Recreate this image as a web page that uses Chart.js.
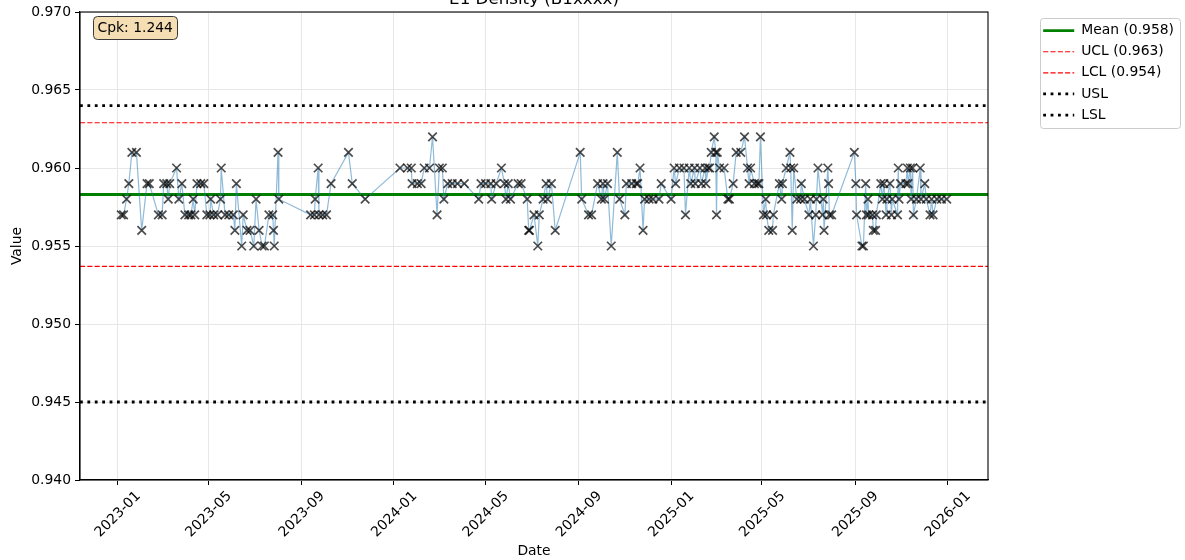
<!DOCTYPE html>
<html>
<head>
<meta charset="utf-8">
<script src="https://cdn.jsdelivr.net/npm/chart.js@4.4.1/dist/chart.umd.min.js"></script>
<style>
html, body { margin: 0; padding: 0; background: #fff; }
canvas { display: block; }
</style>
</head>
<body>
<canvas id="spc" width="1185" height="560"></canvas>
<script>
// E1 Density control chart

const dates = [
  "2023-01-06","2023-01-09","2023-01-13","2023-01-16","2023-01-20","2023-01-26","2023-02-02","2023-02-09","2023-02-12","2023-02-24",
  "2023-03-01","2023-03-03","2023-03-07","2023-03-09","2023-03-11","2023-03-20","2023-03-23","2023-03-27","2023-03-31","2023-04-05",
  "2023-04-08","2023-04-11","2023-04-13","2023-04-16","2023-04-21","2023-04-25","2023-04-29","2023-05-03","2023-05-04","2023-05-08",
  "2023-05-13","2023-05-17","2023-05-18","2023-05-23","2023-05-28","2023-06-03","2023-06-05","2023-06-07","2023-06-14","2023-06-16",
  "2023-06-21","2023-06-25","2023-06-30","2023-07-03","2023-07-07","2023-07-11","2023-07-14","2023-07-20","2023-07-25","2023-07-26",
  "2023-07-27","2023-08-01","2023-08-02","2023-09-13","2023-09-18","2023-09-19","2023-09-23","2023-09-24","2023-09-29","2023-10-04",
  "2023-10-10","2023-11-02","2023-11-07","2023-11-24",
  "2024-01-09","2024-01-19","2024-01-24","2024-01-25","2024-02-01","2024-02-06","2024-02-10","2024-02-17","2024-02-21","2024-02-27",
  "2024-03-01","2024-03-05","2024-03-07","2024-03-12","2024-03-18","2024-03-25","2024-04-03","2024-04-22","2024-04-25","2024-05-01",
  "2024-05-08","2024-05-09","2024-05-15","2024-05-22","2024-05-26","2024-05-28","2024-05-31","2024-06-03","2024-06-13","2024-06-17",
  "2024-06-25","2024-06-27","2024-06-28","2024-07-04","2024-07-09","2024-07-11","2024-07-16","2024-07-20","2024-07-22","2024-07-27",
  "2024-08-01","2024-09-03","2024-09-05","2024-09-14","2024-09-18","2024-09-26","2024-10-01","2024-10-03","2024-10-05","2024-10-09",
  "2024-10-14","2024-10-22","2024-10-25","2024-11-01","2024-11-03","2024-11-10","2024-11-16","2024-11-18","2024-11-21","2024-11-25",
  "2024-11-27","2024-12-03","2024-12-08","2024-12-16","2024-12-19",
  "2025-01-01","2025-01-05","2025-01-07","2025-01-12","2025-01-18","2025-01-20","2025-01-25","2025-01-27","2025-02-01","2025-02-02",
  "2025-02-08","2025-02-10","2025-02-15","2025-02-16","2025-02-19","2025-02-21","2025-02-23","2025-02-27","2025-03-01","2025-03-02",
  "2025-03-03","2025-03-06","2025-03-12","2025-03-17","2025-03-19","2025-03-24","2025-03-28","2025-04-03","2025-04-08","2025-04-12",
  "2025-04-14","2025-04-16","2025-04-21","2025-04-25","2025-04-27","2025-04-29","2025-05-03","2025-05-06","2025-05-07","2025-05-10",
  "2025-05-15","2025-05-16","2025-05-24","2025-05-27","2025-05-28","2025-06-02","2025-06-07","2025-06-08","2025-06-10","2025-06-12",
  "2025-06-16","2025-06-21","2025-06-22","2025-06-26","2025-07-02","2025-07-04","2025-07-08","2025-07-11","2025-07-12","2025-07-14",
  "2025-07-20","2025-07-21","2025-07-22","2025-07-27","2025-07-28","2025-07-29","2025-08-01","2025-08-31","2025-09-02","2025-09-03",
  "2025-09-10","2025-09-12","2025-09-15","2025-09-16","2025-09-18","2025-09-19","2025-09-24","2025-09-25","2025-09-28","2025-09-29",
  "2025-10-05","2025-10-07","2025-10-09","2025-10-12","2025-10-13","2025-10-17","2025-10-19","2025-10-20","2025-10-27","2025-10-28",
  "2025-10-29","2025-10-31","2025-11-07","2025-11-09","2025-11-10","2025-11-13","2025-11-14","2025-11-16","2025-11-17","2025-11-21",
  "2025-11-26","2025-11-27","2025-12-02","2025-12-04","2025-12-09","2025-12-11","2025-12-13","2025-12-18","2025-12-24","2025-12-31"
];

const values = [
  0.957,0.957,0.958,0.959,0.961,0.961,0.956,0.959,0.959,0.957,
  0.957,0.959,0.959,0.958,0.959,0.960,0.958,0.959,0.957,0.957,
  0.957,0.958,0.957,0.959,0.959,0.959,0.957,0.957,0.958,0.957,
  0.957,0.958,0.960,0.957,0.957,0.957,0.956,0.959,0.955,0.957,
  0.956,0.956,0.955,0.958,0.956,0.955,0.955,0.957,0.957,0.956,
  0.955,0.961,0.958,0.957,0.957,0.958,0.960,0.957,0.957,0.957,
  0.959,0.961,0.959,0.958,
  0.960,0.960,0.960,0.959,0.959,0.959,0.960,0.960,0.962,0.957,
  0.960,0.960,0.958,0.959,0.959,0.959,0.959,0.958,0.959,0.959,
  0.959,0.958,0.959,0.960,0.959,0.958,0.959,0.958,0.959,0.959,
  0.958,0.956,0.956,0.957,0.955,0.957,0.958,0.959,0.958,0.959,
  0.956,0.961,0.958,0.957,0.957,0.959,0.958,0.959,0.958,0.959,
  0.955,0.961,0.958,0.957,0.959,0.959,0.959,0.959,0.960,0.956,
  0.958,0.958,0.958,0.958,0.959,
  0.958,0.960,0.959,0.960,0.960,0.957,0.960,0.959,0.960,0.959,
  0.960,0.959,0.960,0.959,0.960,0.960,0.961,0.962,0.961,0.957,
  0.961,0.960,0.960,0.958,0.958,0.959,0.961,0.961,0.962,0.960,
  0.959,0.960,0.959,0.959,0.959,0.962,0.957,0.958,0.957,0.956,
  0.956,0.957,0.959,0.958,0.959,0.960,0.961,0.960,0.956,0.960,
  0.958,0.958,0.959,0.958,0.957,0.958,0.955,0.957,0.958,0.960,
  0.957,0.958,0.956,0.960,0.959,0.957,0.957,0.961,0.959,0.957,
  0.955,0.955,0.959,0.957,0.958,0.957,0.957,0.956,0.956,0.957,
  0.959,0.958,0.959,0.957,0.958,0.959,0.957,0.958,0.957,0.960,
  0.958,0.959,0.959,0.960,0.959,0.960,0.958,0.960,0.957,0.958,
  0.960,0.958,0.959,0.958,0.957,0.958,0.957,0.958,0.958,0.958
];

const xTickLabels = ["2023-01","2023-05","2023-09","2024-01","2024-05","2024-09","2025-01","2025-05","2025-09","2026-01"];
const yTicks = [0.940, 0.945, 0.950, 0.955, 0.960, 0.965, 0.970];

const meanVal = 0.9583;
const uclVal = 0.9629;
const lclVal = 0.9537;
const uslVal = 0.964;
const lslVal = 0.945;
const cpk = 1.244;

Chart.defaults.font.family = "'DejaVu Sans', sans-serif";
Chart.defaults.font.size = 13.9;
Chart.defaults.color = '#000';

// date string -> days since epoch (linear x scale, no date adapter)
const toDay = s => Date.UTC(+s.slice(0, 4), +s.slice(5, 7) - 1, s.length > 7 ? +s.slice(8, 10) : 1) / 86400000;

const pts = dates.map((d, i) => ({ x: toDay(d), y: values[i] }));
const first = pts[0].x, last = pts[pts.length - 1].x;
const xMin = first - (last - first) * 0.05;
const xMax = last + (last - first) * 0.05;
const hline = v => [{ x: xMin, y: v }, { x: xMax, y: v }];
const xTickDays = xTickLabels.map(toDay);

const data = {
  datasets: [
    {
      label: 'Data',
      data: pts,
      borderColor: 'rgba(31,119,180,0.5)',
      borderWidth: 1.2,
      pointStyle: 'crossRot',
      pointRadius: 6,
      pointHoverRadius: 6,
      pointBorderWidth: 1.7,
      pointBorderColor: 'rgba(0,0,0,0.7)',
      pointBackgroundColor: 'rgba(0,0,0,0)'
    },
    { label: 'Mean (' + meanVal.toFixed(3) + ')', data: hline(meanVal), borderColor: '#008000', borderWidth: 2.8, pointRadius: 0 },
    { label: 'UCL (' + uclVal.toFixed(3) + ')', data: hline(uclVal), borderColor: '#ff0000', borderWidth: 1.2, borderDash: [5.1, 2.2], pointRadius: 0 },
    { label: 'LCL (' + lclVal.toFixed(3) + ')', data: hline(lclVal), borderColor: '#ff0000', borderWidth: 1.2, borderDash: [5.1, 2.2], pointRadius: 0 },
    { label: 'USL', data: hline(uslVal), borderColor: '#000', borderWidth: 2.8, borderDash: [2.8, 4.6], pointRadius: 0 },
    { label: 'LSL', data: hline(lslVal), borderColor: '#000', borderWidth: 2.8, borderDash: [2.8, 4.6], pointRadius: 0 }
  ]
};

const decor = {
  id: 'decor',
  beforeInit(chart) {
    const lg = chart.legend;
    if (!lg) return;
    const fit = lg.fit;
    lg.fit = function () { fit.call(this); this.width = 197; };
  },
  afterLayout(chart) {
    const lg = chart.legend;
    lg.left = 1036;
    lg.top = 16.5;
  },
  beforeDraw(chart) {
    const ctx = chart.ctx;
    ctx.save();
    ctx.fillStyle = '#fff';
    ctx.fillRect(0, 0, chart.width, chart.height);
    // legend frame
    ctx.beginPath();
    ctx.roundRect(1040.5, 18.5, 140, 110, 3);
    ctx.fillStyle = 'rgba(255,255,255,0.8)';
    ctx.fill();
    ctx.strokeStyle = '#cccccc';
    ctx.lineWidth = 1;
    ctx.stroke();
    ctx.restore();
  },
  afterDraw(chart) {
    const ctx = chart.ctx;
    const a = chart.chartArea;
    ctx.save();
    // axes frame
    ctx.strokeStyle = '#000';
    ctx.lineWidth = 1.1;
    ctx.strokeRect(a.left, a.top, a.right - a.left, a.bottom - a.top);
    // Cpk box
    ctx.beginPath();
    ctx.roundRect(93.5, 16.5, 84, 23, 4);
    ctx.fillStyle = '#f5deb3';
    ctx.fill();
    ctx.strokeStyle = '#3a3a3a';
    ctx.lineWidth = 1;
    ctx.stroke();
    ctx.fillStyle = '#000';
    ctx.font = "13.9px 'DejaVu Sans', sans-serif";
    ctx.textBaseline = 'middle';
    ctx.textAlign = 'left';
    ctx.fillText('Cpk: ' + cpk.toFixed(3), 97.5, 28);
    // title, mostly above the canvas
    ctx.font = "16.7px 'DejaVu Sans', sans-serif";
    ctx.textAlign = 'center';
    ctx.textBaseline = 'alphabetic';
    ctx.fillText('E1 Density (B1xxxx)', (a.left + a.right) / 2, 4);
    ctx.restore();
  }
};

const config = {
  type: 'line',
  data,
  options: {
    responsive: false,
    animation: false,
    devicePixelRatio: 1,
    layout: { padding: { top: 12, left: 0, right: 0, bottom: 0 } },
    plugins: {
      tooltip: { enabled: false },
      title: { display: false },
      legend: {
        position: 'right',
        align: 'start',
        labels: {
          filter: item => item.datasetIndex > 0,
          generateLabels: chart => Chart.defaults.plugins.legend.labels.generateLabels(chart).map(item => {
            const ds = chart.data.datasets[item.datasetIndex];
            item.lineDash = ds.borderDash || [];
            item.lineWidth = ds.borderWidth;
            item.strokeStyle = ds.borderColor;
            item.fillStyle = 'rgba(0,0,0,0)';
            return item;
          }),
          usePointStyle: true,
          pointStyle: 'line',
          pointStyleWidth: 31,
          boxHeight: 13.9,
          padding: 7.2,
          color: '#000',
          font: { size: 13.9 }
        }
      }
    },
    scales: {
      x: {
        type: 'linear',
        min: xMin,
        max: xMax,
        afterBuildTicks: s => { s.ticks = xTickDays.map(v => ({ value: v })); },
        afterFit: s => { s.height = 80; s.paddingLeft = 0; s.paddingRight = 0; },
        ticks: {
          autoSkip: false,
          maxRotation: 45,
          minRotation: 45,
          padding: 3,
          labelOffset: 21,
          color: '#000',
          callback: (v, i) => xTickLabels[i]
        },
        grid: { color: '#e7e7e7', lineWidth: 1, tickColor: '#000', tickLength: 5 },
        border: { color: '#000', width: 1.1 },
        title: { display: true, text: 'Date', color: '#000', padding: { top: 0, bottom: 0 } }
      },
      y: {
        type: 'linear',
        min: 0.940,
        max: 0.970,
        afterBuildTicks: s => { s.ticks = yTicks.map(v => ({ value: v })); },
        afterFit: s => { s.width = 80; s.paddingTop = 0; s.paddingBottom = 0; },
        ticks: { padding: 4, color: '#000', callback: v => v.toFixed(3) },
        grid: { color: '#e7e7e7', lineWidth: 1, tickColor: '#000', tickLength: 5 },
        border: { color: '#000', width: 1.1 },
        title: { display: true, text: 'Value', color: '#000', padding: { top: 9, bottom: 0 } }
      }
    }
  },
  plugins: [decor]
};

const spcChart = new Chart('spc', config);
</script>
</body>
</html>
